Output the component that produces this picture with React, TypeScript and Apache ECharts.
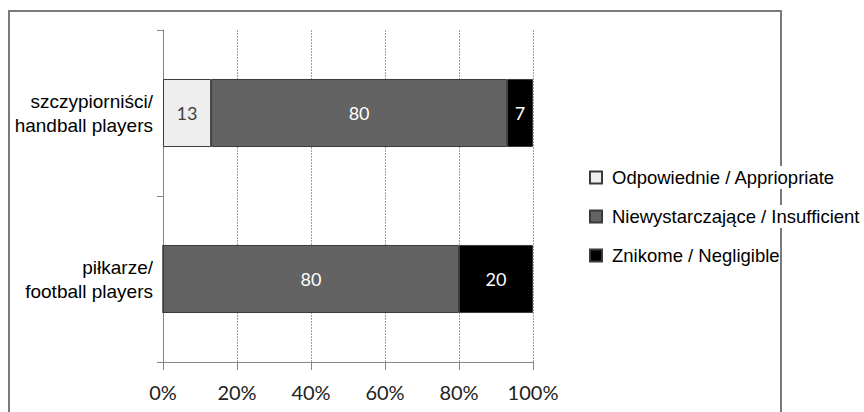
import React, { useEffect, useRef } from "react";
import * as echarts from "echarts";

const categories = ["piłkarze/\nfootball players", "szczypiorniści/\nhandball players"];
const seriesNames = ["Odpowiednie / Appriopriate", "Niewystarczające / Insufficient", "Znikome / Negligible"];
const appropriate = [0, 13];
const insufficient = [80, 80];
const negligible = [20, 7];
const xTicks = [0, 20, 40, 60, 80, 100];

const colors = ["#eeeeee", "#636363", "#000000"];
const labelColors = ["#404040", "#ffffff", "#ffffff"];

export default function App() {
  const ref = useRef<HTMLDivElement>(null);
  useEffect(() => {
    const chart = echarts.init(ref.current!, undefined, { renderer: "svg" });
    const values = [appropriate, insufficient, negligible];
    chart.setOption({
      animation: false,
      backgroundColor: "#ffffff",
      graphic: [
        {
          type: "rect",
          z: -10,
          silent: true,
          shape: { x: 9, y: 11, width: 772, height: 420 },
          style: { fill: "none", stroke: "#7a7a7a", lineWidth: 2 },
        },
      ],
      legend: {
        orient: "vertical",
        left: 589,
        top: 166,
        padding: 0,
        itemWidth: 12,
        itemHeight: 12,
        itemGap: 16,
        icon: "rect",
        z: 10,
        textStyle: {
          fontFamily: "Liberation Sans",
          fontSize: 18.5,
          color: "#000",
          backgroundColor: "#ffffff",
          padding: [2, 0, 2, 5],
        },
        data: seriesNames,
      },
      grid: { left: 163, right: 331, top: 30, bottom: 50, containLabel: false },
      xAxis: {
        type: "value",
        min: xTicks[0],
        max: xTicks[xTicks.length - 1],
        interval: 20,
        axisLine: { show: true, lineStyle: { color: "#868686", width: 1 } },
        axisTick: { show: true, length: 8, lineStyle: { color: "#868686" } },
        axisLabel: {
          formatter: "{value}%",
          fontFamily: "Lato",
          fontSize: 20,
          color: "#222",
          margin: 20,
        },
        splitLine: { show: true, lineStyle: { type: [2, 1], color: "#a0a0a0", width: 1 } },
      },
      yAxis: {
        type: "category",
        data: categories,
        axisLine: { show: true, lineStyle: { color: "#868686", width: 1 } },
        axisTick: { show: true, length: 6, lineStyle: { color: "#868686" } },
        axisLabel: {
          fontFamily: "Liberation Sans",
          fontSize: 19,
          lineHeight: 24,
          color: "#000",
          margin: 10,
          align: "right",
        },
      },
      series: seriesNames.map((name, i) => ({
        name,
        type: "bar",
        stack: "total",
        barWidth: "41%",
        data: values[i],
        itemStyle: { color: colors[i], borderColor: "#3a3a3a", borderWidth: 1 },
        label: {
          show: true,
          position: "inside",
          color: labelColors[i],
          fontFamily: "Lato",
          fontSize: 18,
          formatter: (p: any) => (p.value > 0 ? String(p.value) : ""),
        },
      })),
    });
    return () => chart.dispose();
  }, []);
  return (
    <div
      ref={ref}
      style={{ position: "fixed", left: 0, top: 0, width: 864, height: 412 }}
    />
  );
}
